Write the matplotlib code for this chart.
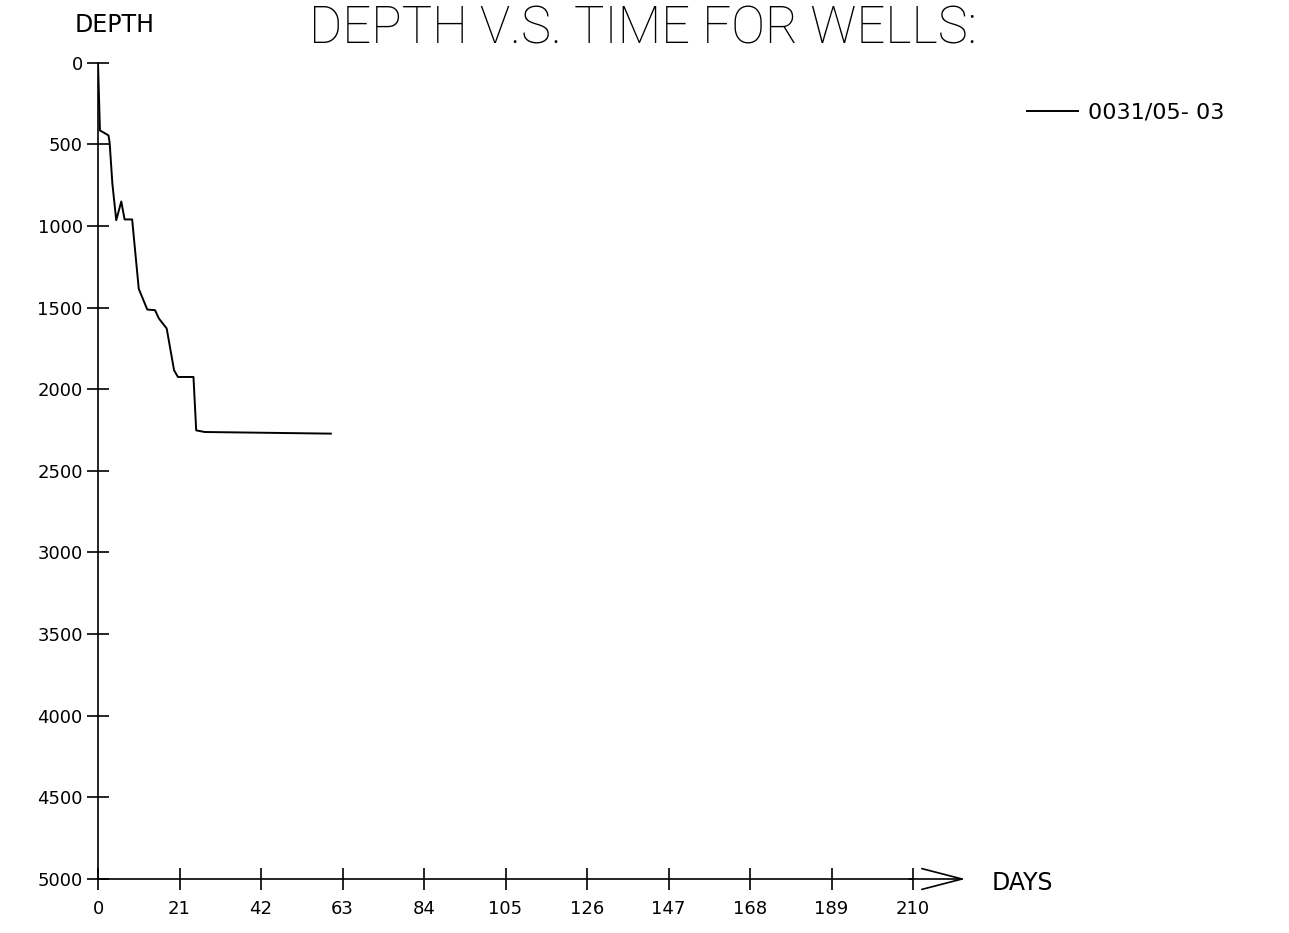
import numpy as np
from matplotlib import pyplot as plt

# well 0031/05- 03 : days since spud vs depth
days = [0, 0.5, 2.7, 3.0, 3.7, 4.7, 6.0, 6.85, 8.8, 10.5, 12.7, 14.7,
        15.7, 17.7, 19.6, 20.6, 24.6, 25.3, 27.5, 60.0]
depth = [0, 415, 445, 490, 740, 965, 850, 960, 960, 1385, 1512, 1516,
         1567, 1628, 1884, 1925, 1925, 2252, 2262, 2272]
well_name = '0031/05- 03'

x_ticks = np.arange(0, 211, 21)
y_ticks = np.arange(0, 5001, 500)

W, H = 1289, 933
fig = plt.figure(figsize=(W / 100, H / 100), dpi=100)
ax = fig.add_axes([98 / W, 1 - 879 / H, 815 / W, 816.3 / H])

ax.plot(days, depth, color='black', linewidth=1.4, label=well_name)

ax.set_xlim(0, 210)
ax.set_ylim(5000, 0)
ax.set_xticks(x_ticks)
ax.set_yticks(y_ticks)

for side in ['top', 'right']:
    ax.spines[side].set_visible(False)
for side in ['left', 'bottom']:
    ax.spines[side].set_linewidth(1.2)

ax.tick_params(axis='both', direction='inout', length=16, width=1.2, labelsize=13)
ax.tick_params(axis='y', pad=3)
ax.tick_params(axis='x', pad=7)

# open arrow head at the end of the time axis
ax.annotate('', xy=(223.5, 5000), xytext=(209, 5000),
            arrowprops=dict(arrowstyle='->,head_length=2.9,head_width=0.75',
                            color='black', linewidth=1.2, shrinkA=0, shrinkB=0),
            annotation_clip=False)

fig.text(1022 / W, 1 - 883 / H, 'DAYS', fontsize=17, ha='center', va='center')
fig.text(115 / W, 1 - 25 / H, 'DEPTH', fontsize=17, ha='center', va='center')
fig.text(643 / W, 1 - 43 / H, 'DEPTH V.S. TIME FOR WELLS:', fontsize=36.5,
         family='Roboto', fontweight='light', ha='center', va='baseline')

ax.legend(loc='center left', bbox_to_anchor=(1027 / W, 1 - 113 / H),
          bbox_transform=fig.transFigure, frameon=False, fontsize=16,
          borderpad=0, borderaxespad=0, handlelength=2.3, handletextpad=0.45)

fig.savefig('out.png', dpi=100)
